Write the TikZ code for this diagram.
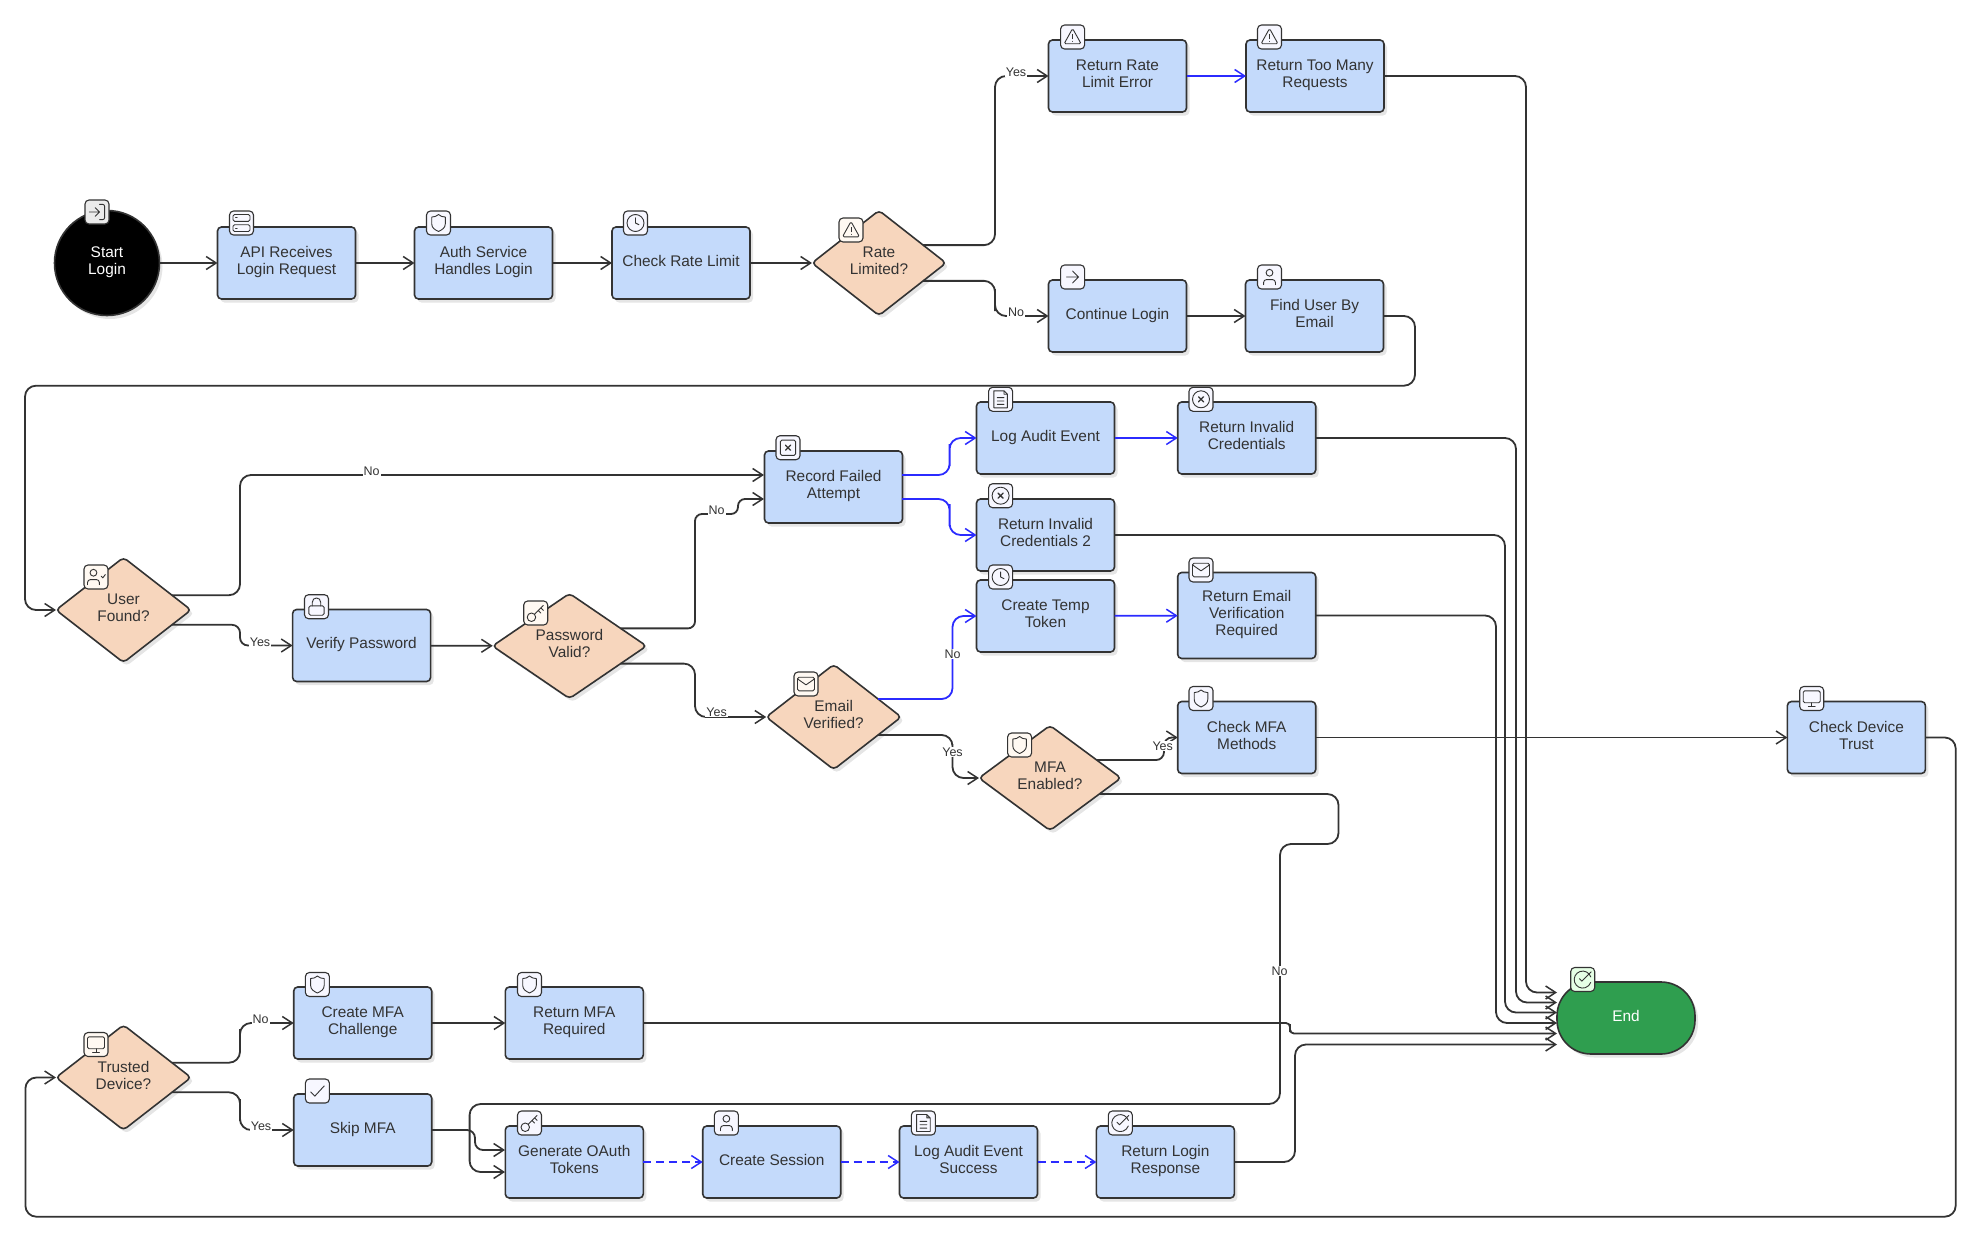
\documentclass[tikz,border=0pt]{standalone}
\usepackage{fontspec}
\setmainfont{Liberation Sans}
\usetikzlibrary{shapes.geometric,arrows.meta,shadows}
\definecolor{box_blue}{HTML}{C4DAFB}
\definecolor{box_peach}{HTML}{F7D6BD}
\definecolor{box_green}{HTML}{2F9E4F}
\definecolor{ink}{HTML}{333333}
\definecolor{edge_blue}{HTML}{2B2BFF}

\tikzstyle{line} = [draw=ink, line width=1.8pt, rounded corners=11pt, -{Straight Barb[length=10pt,width=13pt,line width=1.5pt]}]
\tikzstyle{line_blue} = [line, draw=edge_blue]
\tikzstyle{line_dash} = [line_blue, dash pattern=on 8pt off 5pt]
\tikzstyle{flat} = [draw=ink, line width=1.6pt, inner sep=0pt, outer sep=0pt, align=center, text=ink,
  font=\fontsize{15.4}{17}\selectfont, execute at begin node=\strut, execute at end node=\strut,
  drop shadow={shadow xshift=3pt,shadow yshift=-3.5pt,fill=black!10,opacity=1}]
\tikzstyle{process} = [flat, rectangle, rounded corners=4pt, fill=box_blue, minimum width=138pt, minimum height=72pt]
\tikzstyle{decision} = [flat, diamond, rounded corners=4pt, fill=box_peach, minimum height=105pt]
\tikzstyle{edge_text} = [fill=white, inner sep=1pt, text=ink, font=\fontsize{12.5}{13}\selectfont]
\tikzstyle{icon_box} = [draw=ink, line width=1.1pt, rounded corners=4pt, fill=blue!3, minimum width=24pt, minimum height=24pt, inner sep=0pt]
\tikzstyle{icon_line} = [draw=ink, line width=.9pt, line join=round, line cap=round]

\tikzset{
  ic_login/.pic={\draw[icon_line,rounded corners=2pt] (3,-9) -- (9,-9) -- (9,9) -- (3,9);
    \draw[icon_line] (-2,-5) -- (3,0) -- (-2,5) (3,0) -- (-9,0);},
  ic_server/.pic={\draw[icon_line,rounded corners=1.5pt] (-10,-10) rectangle (10,-2) (-10,2) rectangle (10,10);
    \draw[icon_line] (-7,-6) -- (-5,-6) (-7,6) -- (-5,6);},
  ic_shield/.pic={\draw[icon_line] (0,-10) .. controls (2,-8) and (5,-7) .. (8,-7) -- (8,1) .. controls (8,6) and (4,8) .. (0,10)
    .. controls (-4,8) and (-8,6) .. (-8,1) -- (-8,-7) .. controls (-5,-7) and (-2,-8) .. (0,-10) -- cycle;},
  ic_clock/.pic={\draw[icon_line] (0,0) circle (10) (0,-6) -- (0,0) -- (4,2);},
  ic_warn/.pic={\draw[icon_line,rounded corners=1.5pt] (0,-10) -- (10,8) -- (-10,8) -- cycle;
    \draw[icon_line] (0,-3) -- (0,2) (0,5) -- (0,5.2);},
  ic_arrow/.pic={\draw[icon_line] (-7,0) -- (7,0) (0,-7) -- (7,0) -- (0,7);},
  ic_user/.pic={\draw[icon_line] (0,-5) circle (4);
    \draw[icon_line,rounded corners=3pt] (7,9) -- (7,3) -- (-7,3) -- (-7,9);},
  ic_usercheck/.pic={\draw[icon_line] (-3,-5) circle (4);
    \draw[icon_line,rounded corners=3pt] (4,9) -- (4,3) -- (-10,3) -- (-10,9);
    \draw[icon_line] (6,-1) -- (8,1) -- (11,-3);},
  ic_lock/.pic={\draw[icon_line,rounded corners=1.5pt] (-9,-1) rectangle (9,10);
    \draw[icon_line] (-5,-1) -- (-5,-5) .. controls (-5,-12) and (5,-12) .. (5,-5) -- (5,-1);},
  ic_key/.pic={\draw[icon_line] (-5,5) circle (5) (-1.5,1.5) -- (9,-9) (3,-3) -- (6,0) (6,-6) -- (9,-3);},
  ic_file/.pic={\draw[icon_line] (-8,-10) -- (4,-10) -- (8,-6) -- (8,10) -- (-8,10) -- cycle (4,-10) -- (4,-6) -- (8,-6)
    (-4,-2) -- (4,-2) (-4,2) -- (4,2) (-4,6) -- (4,6);},
  ic_circlex/.pic={\draw[icon_line] (0,0) circle (10);
    \draw[icon_line,line width=1.3pt] (-3,-3) -- (3,3) (3,-3) -- (-3,3);},
  ic_squarex/.pic={\draw[icon_line,rounded corners=1.5pt] (-9,-9) rectangle (9,9);
    \draw[icon_line,line width=1.3pt] (-3,-3) -- (3,3) (3,-3) -- (-3,3);},
  ic_mail/.pic={\draw[icon_line,rounded corners=1.5pt] (-10,-8) rectangle (10,8);
    \draw[icon_line] (-10,-6) -- (0,1) -- (10,-6);},
  ic_monitor/.pic={\draw[icon_line,rounded corners=1.5pt] (-10,-9) rectangle (10,5);
    \draw[icon_line] (0,5) -- (0,9) (-4,9) -- (4,9);},
  ic_check/.pic={\draw[icon_line] (-8,1) -- (-3,6) -- (8,-6);},
  ic_circlecheck/.pic={\draw[icon_line] (9.5,-3) arc[start angle=-18,end angle=-340,radius=10];
    \draw[icon_line] (-4,-1) -- (-1,2) -- (10,-9);}
}
\newcommand{\tagicon}[4][icon_box]{\node (#2) [#1] at (#3) {}; \pic [scale=.85] at (#2) {#4};}

\begin{document}
\begin{tikzpicture}[x=1pt,y=-1pt]
  \useasboundingbox (0,0) rectangle (1981,1255);

  % top row
  \node (start_login) [flat, circle, fill=black, text=white, minimum size=105pt] at (107,263) {Start\\Login};
  \node (api_recv) [process] at (286.5,263) {API Receives\\Login Request};
  \node (auth_svc) [process] at (483.5,263) {Auth Service\\Handles Login};
  \node (chk_rate) [process] at (681,263) {Check Rate Limit};
  \node (rate_lim) [decision, minimum width=134pt] at (879,263) {Rate\\Limited?};
  \node (ret_rate) [process] at (1117.5,76) {Return Rate\\Limit Error};
  \node (ret_many) [process] at (1315,76) {Return Too Many\\Requests};
  \node (cont_login) [process] at (1117.5,316) {Continue Login};
  \node (find_user) [process] at (1314.5,316) {Find User By\\Email};

  % password and email checks
  \node (user_found) [decision, minimum width=135pt] at (123.5,610) {User\\Found?};
  \node (ver_pass) [process] at (361.6,645.5) {Verify Password};
  \node (pw_valid) [decision, minimum width=154pt] at (569.5,646) {Password\\Valid?};
  \node (rec_fail) [process] at (833.5,487) {Record Failed\\Attempt};
  \node (log_audit) [process] at (1045.5,438) {Log Audit Event};
  \node (ret_inv) [process] at (1246.7,438) {Return Invalid\\Credentials};
  \node (ret_inv2) [process] at (1045.5,535) {Return Invalid\\Credentials 2};
  \node (cr_temp) [process] at (1045.5,616) {Create Temp\\Token};
  \node (ret_email) [process, minimum height=86pt] at (1246.7,615.5) {Return Email\\Verification\\Required};
  \node (em_ver) [decision, minimum width=135pt] at (833.7,717) {Email\\Verified?};
  \node (mfa_en) [decision, minimum width=142pt] at (1050,778) {MFA\\Enabled?};
  \node (chk_mfa) [process] at (1246.7,737.5) {Check MFA\\Methods};
  \node (chk_dev) [process] at (1856.4,737.5) {Check Device\\Trust};

  % bottom rows
  \node (trust_dev) [decision, minimum width=135pt] at (123.5,1077.5) {Trusted\\Device?};
  \node (cr_mfa) [process] at (362.7,1023) {Create MFA\\Challenge};
  \node (ret_mfa) [process] at (574.3,1023) {Return MFA\\Required};
  \node (skip_mfa) [process] at (362.7,1130) {Skip MFA};
  \node (gen_tok) [process] at (574.3,1162) {Generate OAuth\\Tokens};
  \node (cr_sess) [process] at (771.7,1162) {Create Session};
  \node (log_succ) [process] at (968.5,1162) {Log Audit Event\\Success};
  \node (ret_login) [process] at (1165.4,1162) {Return Login\\Response};
  \node (end_n) [flat, rectangle, rounded corners=34pt, fill=box_green, text=white, minimum width=138pt, minimum height=72pt] at (1626,1018) {End};

  \coordinate (end_in1) at (1557,992.5);
  \coordinate (end_in2) at (1557,1002.5);
  \coordinate (end_in3) at (1557,1012.5);
  \coordinate (end_in4) at (1557,1023);
  \coordinate (end_in5) at (1557,1033.5);
  \coordinate (end_in6) at (1557,1044.5);
  \coordinate (rec_in1) at (764,475);
  \coordinate (rec_in2) at (764,499);
  \coordinate (rec_out1) at (902,475);
  \coordinate (rec_out2) at (902,499);
  \coordinate (gen_in1) at (505,1150);
  \coordinate (gen_in2) at (505,1172);

  \path [line] (start_login) -- (api_recv);
  \path [line] (api_recv) -- (auth_svc);
  \path [line] (auth_svc) -- (chk_rate);
  \path [line] (chk_rate) -- (rate_lim);
  \path [line] (rate_lim.22) -| (995,160) |- (ret_rate.west);
  \path [line] (rate_lim.-22) -| (995,300) |- (cont_login.west);
  \path [line_blue] (ret_rate) -- (ret_many);
  \path [line] (cont_login) -- (find_user);
  \path [line] (find_user.east) -| (1415,385.7) -| (25,500) |- (user_found.west);

  \path [line] (user_found.17) -| (240,475) -- (rec_in1);
  \path [line, rounded corners=8pt] (user_found.-17) -| (240,645.5) -- (ver_pass.west);
  \path [line] (ver_pass) -- (pw_valid);
  \path [line, rounded corners=7pt] (pw_valid.19) -| (695,514) -| (738,499) -- (rec_in2);
  \path [line] (pw_valid.-19) -| (695,690) |- (em_ver.west);
  \path [line_blue] (rec_out1) -| (949.6,455) |- (log_audit.west);
  \path [line_blue] (rec_out2) -| (949.6,515) |- (ret_inv2.west);
  \path [line_blue] (log_audit) -- (ret_inv);
  \path [line_blue] (cr_temp) -- (ret_email);
  \path [line_blue] (em_ver.22) -| (952.5,650) |- (cr_temp.west);
  \path [line] (em_ver.-22) -| (952.5,755) |- (mfa_en.west);
  \path [line, rounded corners=8pt] (mfa_en.21) -| (1164,737.5) -- (chk_mfa.west);
  \path [line] (mfa_en.-18) -| (1338.5,844) -| (1280,1104) -| (469.6,1140) |- (gen_in2);
  \path [line] (chk_mfa) -- (chk_dev);
  \path [line] (chk_dev.east) -| (1955.7,1216.7) -| (25.4,1150) |- (trust_dev.west);

  \path [line] (trust_dev.17) -| (240,1040) |- (cr_mfa.west);
  \path [line] (trust_dev.-17) -| (240,1110) |- (skip_mfa.west);
  \path [line] (cr_mfa) -- (ret_mfa);
  \path [line, rounded corners=8pt] (skip_mfa.east) -| (475,1150) -- (gen_in1);
  \path [line_dash] (gen_tok) -- (cr_sess);
  \path [line_dash] (cr_sess) -- (log_succ);
  \path [line_dash] (log_succ) -- (ret_login);

  % everything into the end node
  \path [line] (ret_many.east) -| (1526,900) |- (end_in1);
  \path [line] (ret_inv.east) -| (1516,900) |- (end_in2);
  \path [line] (ret_inv2.east) -| (1505,900) |- (end_in3);
  \path [line] (ret_email.east) -| (1496,900) |- (end_in4);
  \path [line, rounded corners=4pt] (ret_mfa.east) -| (1290,1028) |- (end_in5);
  \path [line] (ret_login.east) -| (1295,1100) |- (end_in6);

  \node (lbl_rate_yes) [edge_text] at (1016,72) {Yes};
  \node (lbl_rate_no) [edge_text] at (1016,312) {No};
  \node (lbl_user_no) [edge_text] at (371.7,471) {No};
  \node (lbl_user_yes) [edge_text] at (260,642) {Yes};
  \node (lbl_pw_no) [edge_text] at (716.6,510) {No};
  \node (lbl_pw_yes) [edge_text] at (716.6,712) {Yes};
  \node (lbl_em_no) [edge_text] at (952.5,654) {No};
  \node (lbl_em_yes) [edge_text] at (952.5,752) {Yes};
  \node (lbl_mfa_yes) [edge_text] at (1162.7,746) {Yes};
  \node (lbl_mfa_no) [edge_text] at (1279.5,971) {No};
  \node (lbl_dev_no) [edge_text] at (260.7,1019) {No};
  \node (lbl_dev_yes) [edge_text] at (261,1126) {Yes};

  \tagicon[icon_box,fill=black!8]{ic_start}{97,212}{ic_login}
  \tagicon{ic_api}{241.5,223}{ic_server}
  \tagicon{ic_auth}{438.5,223}{ic_shield}
  \tagicon{ic_rate}{635.5,223}{ic_clock}
  \tagicon[icon_box,fill=orange!5]{ic_lim}{851,230}{ic_warn}
  \tagicon{ic_ret_rate}{1072.6,37}{ic_warn}
  \tagicon{ic_ret_many}{1269.5,37}{ic_warn}
  \tagicon{ic_cont}{1072.6,277}{ic_arrow}
  \tagicon{ic_find}{1269.5,277}{ic_user}
  \tagicon[icon_box,fill=orange!5]{ic_found}{96,577}{ic_usercheck}
  \tagicon{ic_ver}{316.5,606.7}{ic_lock}
  \tagicon[icon_box,fill=orange!5]{ic_pw}{535.7,613}{ic_key}
  \tagicon{ic_rec}{788,447.7}{ic_squarex}
  \tagicon{ic_log}{1000.6,399.3}{ic_file}
  \tagicon{ic_inv}{1201,399.3}{ic_circlex}
  \tagicon{ic_inv2}{1000.6,495.7}{ic_circlex}
  \tagicon{ic_temp}{1000.6,577}{ic_clock}
  \tagicon{ic_email}{1201,570}{ic_mail}
  \tagicon[icon_box,fill=orange!5]{ic_em}{806,684}{ic_mail}
  \tagicon[icon_box,fill=orange!5]{ic_mfa}{1019.6,745}{ic_shield}
  \tagicon{ic_chk}{1201,698.5}{ic_shield}
  \tagicon{ic_dev}{1811.7,698.5}{ic_monitor}
  \tagicon[icon_box,fill=orange!5]{ic_trust}{96,1044.5}{ic_monitor}
  \tagicon{ic_cr_mfa}{317.4,984.5}{ic_shield}
  \tagicon{ic_ret_mfa}{529.5,984.5}{ic_shield}
  \tagicon{ic_skip}{317.4,1091}{ic_check}
  \tagicon{ic_gen}{529.5,1123}{ic_key}
  \tagicon{ic_sess}{726.4,1123}{ic_user}
  \tagicon{ic_succ}{923.4,1123}{ic_file}
  \tagicon{ic_login}{1120.3,1123}{ic_circlecheck}
  \tagicon[icon_box,fill=green!10]{ic_end}{1582.7,979.5}{ic_circlecheck}
\end{tikzpicture}
\end{document}
